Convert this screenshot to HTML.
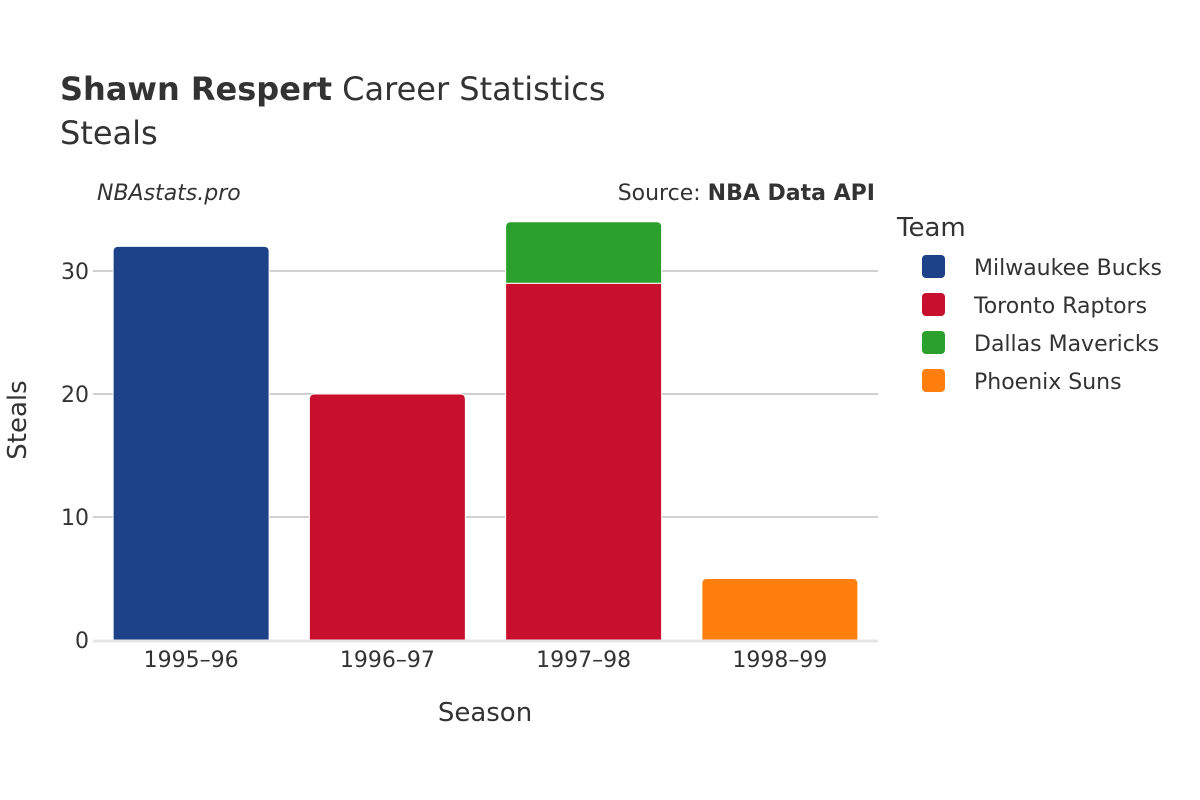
<!DOCTYPE html>
<html><head><meta charset="utf-8"><style>
body{margin:0;background:#fff;}
svg{font-family:"DejaVu Sans","Liberation Sans",sans-serif;display:block}
</style></head><body>
<svg width="1200" height="800" viewBox="0 0 1200 800">
<text x="60" y="100" font-size="32" fill="#333"><tspan font-weight="bold">Shawn Respert</tspan> Career Statistics</text>
<text x="60" y="144" font-size="32" fill="#333">Steals</text>
<text x="97" y="200" font-size="22" font-style="italic" fill="#333">NBAstats.pro</text>
<text x="875" y="200" font-size="22" fill="#333" text-anchor="end">Source: <tspan font-weight="bold">NBA Data API</tspan></text>
<g id="grid"></g>
<g id="bars"></g>
<g id="xt"></g>
<text x="485" y="721" font-size="26" fill="#333" text-anchor="middle">Season</text>
<text transform="translate(26,420) rotate(-90)" font-size="26" fill="#333" text-anchor="middle">Steals</text>
<g id="legend"><text x="897" y="236" font-size="26" fill="#333">Team</text></g>
</svg>
<script>
const seasons=["1995–96","1996–97","1997–98","1998–99"];
const teams=["Milwaukee Bucks","Toronto Raptors","Dallas Mavericks","Phoenix Suns"];
const colors=["#1d428a","#c8102e","#2ca02c","#ff7f0e"];
const bucks=[32,0,0,0];
const raptors=[0,20,29,0];
const mavs=[0,0,5,0];
const suns=[0,0,0,5];
const yTicks=[0,10,20,30];
const series=[bucks,raptors,mavs,suns];
const NS="http://www.w3.org/2000/svg";
const x0=93,x1=878,band=(x1-x0)/seasons.length,bw=156;
const y=v=>640-v*12.3;
const xc=i=>x0+band*(i+0.5);
function mk(t,a,p){const e=document.createElementNS(NS,t);for(const k in a)e.setAttribute(k,a[k]);p.appendChild(e);return e;}
const g=document.getElementById('grid');
yTicks.forEach(t=>{
 if(t>0){const l=mk('line',{x1:x0,x2:x1,y1:y(t),y2:y(t),stroke:'#b4b4b4','stroke-width':1.3},g);
 
 }
 const tx=mk('text',{x:x0-4,y:y(t)+8,'font-size':22,fill:'#333','text-anchor':'end'},g);tx.textContent=t;
 
 
});
const b=document.getElementById('bars');
seasons.forEach((s,i)=>{
 let base=0;const segs=[];
 series.forEach((ser,k)=>{if(ser[i]>0){segs.push([k,base,base+ser[i]]);base+=ser[i];}});
 segs.forEach((sg,j)=>{
  const [k,a,c]=sg;const top=j===segs.length-1;
  const X=xc(i)-bw/2,Y0=y(a),Y1=y(c),r=top?5:0;
  const d=`M${X},${Y0} L${X},${Y1+r} Q${X},${Y1} ${X+r},${Y1} L${X+bw-r},${Y1} Q${X+bw},${Y1} ${X+bw},${Y1+r} L${X+bw},${Y0} Z`;
  const p=mk('path',{d,fill:colors[k],stroke:'#fff','stroke-width':1},b);
  
  
 });
 const t=mk('text',{x:xc(i),y:667,'font-size':22,fill:'#333','text-anchor':'middle'},document.getElementById('xt'));
 t.textContent=s;
 
 
});
const z=mk('line',{x1:x0,x2:x1,y1:641,y2:641,stroke:'#e5e5e5','stroke-width':3},b);


const lg=document.getElementById('legend');
teams.forEach((t,k)=>{
 const gy=266+k*38;
 const gg=mk('g',{},lg);
 
 
 mk('rect',{x:922,y:gy-11,width:23,height:23,rx:4,fill:colors[k]},gg);
 const tx=mk('text',{x:974,y:gy+9,'font-size':22,fill:'#333'},gg);tx.textContent=t;
});
</script>
</body></html>
